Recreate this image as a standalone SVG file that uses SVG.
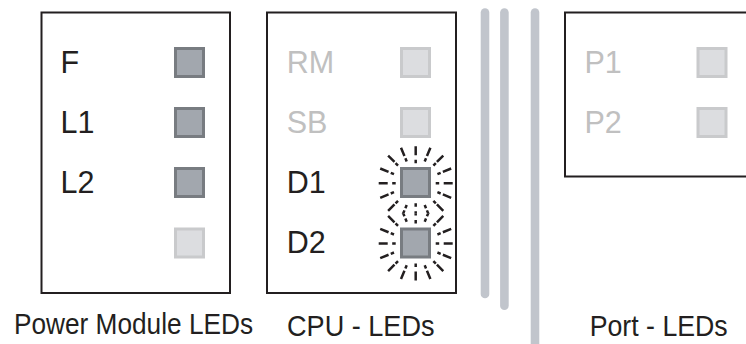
<svg xmlns="http://www.w3.org/2000/svg" xmlns:xlink="http://www.w3.org/1999/xlink" width="746" height="344" viewBox="0 0 746 344">
<style>
.box{fill:#fff;stroke:#231f20;stroke-width:2}
.bar{stroke:#c1c5cc;stroke-width:8.6;stroke-linecap:round;fill:none}
.on{fill:#a2a7ae;stroke:#787c81;stroke-width:3}
.off{fill:#dcdde0;stroke:#c9cacc;stroke-width:3}
.lbl{font-family:"Liberation Sans",Arial,sans-serif;font-size:30.5px;fill:#231f20}
.dim{fill:#c0c0c0}
.cap{font-family:"Liberation Sans",Arial,sans-serif;font-size:29px;fill:#231f20}
.ray{fill:none;stroke:#231f20;stroke-width:2.5}
</style>
<defs>
<path id="rays" class="ray" d="M0,-20V-23.5M0,-28V-37M8.99,-21.71L10.33,-24.95M11.25,-27.16L14.7,-35.48M17.68,-17.68L20.15,-20.15M21.21,-21.21L27.58,-27.58M21.71,-8.99L24.95,-10.33M27.16,-11.25L35.48,-14.7M20,0H23.5M28,0H37M21.71,8.99L24.95,10.33M27.16,11.25L35.48,14.7M17.68,17.68L20.15,20.15M21.21,21.21L27.58,27.58M8.99,21.71L10.33,24.95M11.25,27.16L14.7,35.48M0,20V23.5M0,28V37M-8.99,21.71L-10.33,24.95M-11.25,27.16L-14.7,35.48M-17.68,17.68L-20.15,20.15M-21.21,21.21L-27.58,27.58M-21.71,8.99L-24.95,10.33M-27.16,11.25L-35.48,14.7M-20,0H-23.5M-28,0H-37M-21.71,-8.99L-24.95,-10.33M-27.16,-11.25L-35.48,-14.7M-17.68,-17.68L-20.15,-20.15M-21.21,-21.21L-27.58,-27.58M-8.99,-21.71L-10.33,-24.95M-11.25,-27.16L-14.7,-35.48"/>
<clipPath id="clipTop"><rect x="360" y="130" width="100" height="83.3"/></clipPath>
<clipPath id="clipBot"><rect x="360" y="213.3" width="100" height="90"/></clipPath>
</defs>

<g id="bars">
<line class="bar" x1="485" y1="12.5" x2="485" y2="294"/>
<line class="bar" x1="504.4" y1="12.5" x2="504.4" y2="305.7"/>
<line class="bar" x1="535" y1="12.5" x2="535" y2="350"/>
</g>

<g id="power-module">
<rect class="box" x="41.5" y="12.5" width="188.5" height="280.5"/>
<text class="lbl" x="60.5" y="73">F</text>
<text class="lbl" x="60.5" y="133">L1</text>
<text class="lbl" x="60.5" y="193">L2</text>
<rect class="on" x="175.5" y="48.5" width="28" height="28"/>
<rect class="on" x="175.5" y="108.5" width="28" height="28"/>
<rect class="on" x="175.5" y="168.5" width="28" height="28"/>
<rect class="off" x="175.5" y="229" width="28" height="28"/>
<text class="cap" x="14" y="333.5" textLength="239" lengthAdjust="spacingAndGlyphs">Power Module LEDs</text>
</g>

<g id="cpu">
<rect class="box" x="267" y="12.5" width="189" height="280.5"/>
<text class="lbl dim" x="286.7" y="73">RM</text>
<text class="lbl dim" x="286.7" y="133">SB</text>
<text class="lbl" x="286.7" y="193">D1</text>
<text class="lbl" x="286.7" y="253">D2</text>
<rect class="off" x="401.5" y="48.5" width="28" height="28"/>
<rect class="off" x="401.5" y="108.5" width="28" height="28"/>
<g clip-path="url(#clipTop)"><use xlink:href="#rays" href="#rays" transform="translate(415.7,183.2)"/></g>
<g clip-path="url(#clipBot)"><use xlink:href="#rays" href="#rays" transform="translate(415.7,243.5)"/></g>
<rect class="on" x="401.5" y="168.5" width="28" height="28"/>
<rect class="on" x="401.5" y="229" width="28" height="28"/>
<text class="cap" x="287" y="335.5" textLength="147.5" lengthAdjust="spacingAndGlyphs">CPU - LEDs</text>
</g>

<g id="port">
<rect class="box" x="565" y="12.5" width="200" height="164"/>
<text class="lbl dim" x="584.4" y="73">P1</text>
<text class="lbl dim" x="584.4" y="133">P2</text>
<rect class="off" x="698" y="48.5" width="28" height="28"/>
<rect class="off" x="698" y="108.5" width="28" height="28"/>
<text class="cap" x="589.7" y="335.5" textLength="138" lengthAdjust="spacingAndGlyphs">Port - LEDs</text>
</g>
</svg>
